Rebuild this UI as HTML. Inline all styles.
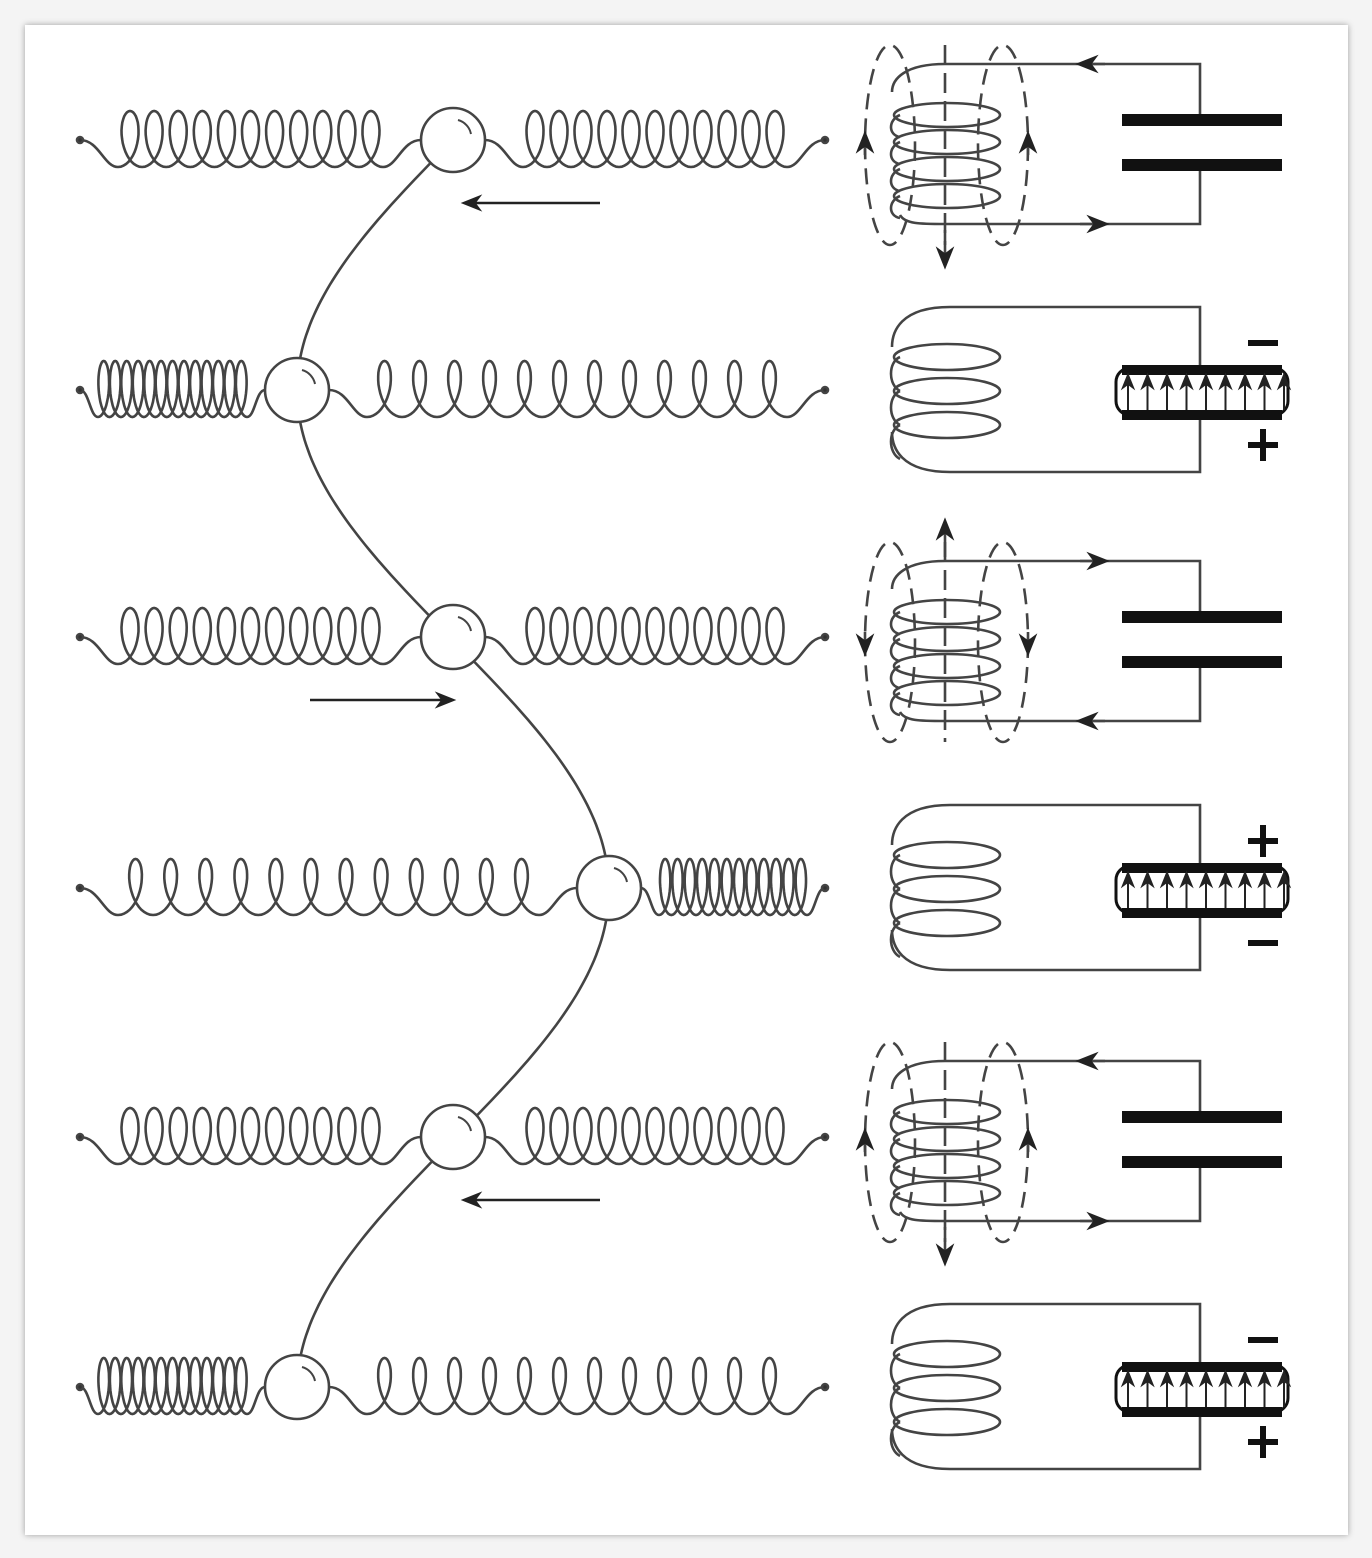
<!DOCTYPE html>
<html><head><meta charset="utf-8">
<style>
html,body{margin:0;padding:0;background:#f4f4f4;}
#frame{position:absolute;left:25px;top:25px;width:1323px;height:1510px;background:#fff;box-shadow:0 0 6px rgba(0,0,0,0.35);}
svg{position:absolute;left:0;top:0;}
</style></head>
<body>
<div id="frame"></div>
<svg id="s" width="1372" height="1558" viewBox="0 0 1372 1558">
<defs>
<marker id="ah" viewBox="0 0 10 10" refX="8" refY="5" markerWidth="9" markerHeight="9" orient="auto"><path d="M0,1 L10,5 L0,9 L3,5 Z" fill="#222"/></marker>
</defs>
<g id="g" fill="none" stroke="#444" stroke-width="2.6"></g>
</svg>
<script>
const rowY=[140,390,637,888,1137,1387];
const massX=[453,297,453,609,453,297];
const leftLoops=[11,13,11,12,11,13];
const rightLoops=[11,12,11,12,11,12];
const circuitType=['field','charged','field','charged','field','charged'];
const fieldDir=[1,0,-1,0,1,0];
const topSign=['','−','','+','','−'];
const arrowRows=[0,2,4];
const arrowDir=[-1,1,-1];
const NS='http://www.w3.org/2000/svg';
const g=document.getElementById('g');
function el(tag,attrs,name){const e=document.createElementNS(NS,tag);for(const k in attrs)e.setAttribute(k,attrs[k]);


g.appendChild(e);return e;}
function spring(xa,xb,cy,n,tight){
  const yb=cy+27,H=28,lead=tight?18:38;
  const xs=xa+lead,xe=xb-lead,p=(xe-xs)/n,Rx=tight?8:14;
  let d=`M${xa},${cy} C${xa+lead*0.5},${cy} ${xs-Rx},${yb} ${xs},${yb}`;
  for(let i=1;i<=n*40;i++){const t=i/40*2*Math.PI;
    d+=` L${(xs+p*t/(2*Math.PI)+Rx*Math.sin(t)).toFixed(1)},${(yb-H*(1-Math.cos(t))).toFixed(1)}`;}
  d+=` C${xe+Rx},${yb} ${xb-lead*0.5},${cy} ${xb},${cy}`;
  return d;
}
{let d='';for(let y=rowY[0];y<=rowY[5];y+=5){const x=453-156*Math.sin(Math.PI*(y-140)/500);d+=(d?' L':'M')+x.toFixed(1)+','+y;}
 el('path',{d:d},'wave-curve');}
rowY.forEach((cy,i)=>{
  const mx=massX[i],r=32;
  const tl=mx<350,tr=mx>550;
  el('path',{d:spring(80,mx-r,cy,leftLoops[i],tl)},'left-spring-'+(i+1));
  el('path',{d:spring(mx+r,825,cy,rightLoops[i],tr)},'right-spring-'+(i+1));
  el('circle',{cx:80,cy:cy,r:3,fill:'#333'},'spring-anchor-left-'+(i+1));
  el('circle',{cx:825,cy:cy,r:3,fill:'#333'},'spring-anchor-right-'+(i+1));
  el('circle',{cx:mx,cy:cy,r:r,fill:'#fff'},'mass-'+(i+1));
  el('path',{d:`M${mx+5},${cy-20} A18,18 0 0 1 ${mx+18},${cy-6}`,'stroke-width':2},'mass-highlight-'+(i+1));
  if(circuitType[i]==='field'){
    const t=cy-76,b=cy+84,dir=fieldDir[i];
    el('path',{d:`M945,${t} L1200,${t} L1200,${cy-20} M1200,${cy+25} L1200,${b} L945,${b}`},'circuit-wire-'+(i+1));
    el('line',{x1:1122,y1:cy-20,x2:1282,y2:cy-20,stroke:'#111','stroke-width':12},'capacitor-plate-top-'+(i+1));
    el('line',{x1:1122,y1:cy+25,x2:1282,y2:cy+25,stroke:'#111','stroke-width':12},'capacitor-plate-bottom-'+(i+1));
    const ax=dir>0?[1105,1080]:[1080,1105];
    el('line',{x1:ax[0],y1:t,x2:ax[1],y2:t,'marker-end':'url(#ah)'},'current-arrow-top-'+(i+1));
    el('line',{x1:ax[1],y1:b,x2:ax[0],y2:b,'marker-end':'url(#ah)'},'current-arrow-bottom-'+(i+1));
    let cd=`M945,${t} C905,${t} 892,${t+15} 892,${t+28}`;
    for(let k=0;k<4;k++){const yc=cy-25+k*27;
      el('ellipse',{cx:947,cy:yc,rx:53,ry:12},'coil-turn-'+(i+1)+'-'+k);
      cd+=` M${900},${yc} C888,${yc+5} 888,${yc+20} 900,${yc+22}`;}
    cd+=` M900,${cy+75} C905,${b} 920,${b} 945,${b}`;
    el('path',{d:cd},'coil-'+(i+1));
    el('ellipse',{cx:890,cy:cy+5,rx:25,ry:100,'stroke-dasharray':'16,9'},'field-line-left-'+(i+1));
    el('ellipse',{cx:1003,cy:cy+5,rx:25,ry:100,'stroke-dasharray':'16,9'},'field-line-right-'+(i+1));
    el('line',{x1:945,y1:cy-95,x2:945,y2:cy+105,'stroke-dasharray':'20,8'},'field-axis-'+(i+1));
    if(dir>0){el('line',{x1:945,y1:cy+90,x2:945,y2:cy+125,'marker-end':'url(#ah)'},'field-arrow-'+(i+1));}
    else {el('line',{x1:945,y1:cy-80,x2:945,y2:cy-115,'marker-end':'url(#ah)'},'field-arrow-'+(i+1));}
    el('line',{x1:865,y1:cy+5+dir*10,x2:865,y2:cy+5-dir*10,'marker-end':'url(#ah)'},'field-dir-left-'+(i+1));
    el('line',{x1:1028,y1:cy+5+dir*10,x2:1028,y2:cy+5-dir*10,'marker-end':'url(#ah)'},'field-dir-right-'+(i+1));
  } else {
    const t=cy-83,b=cy+82;
    el('path',{d:`M1200,${cy-18} L1200,${t} L950,${t} C900,${t} 892,${t+25} 892,${t+40} M1200,${cy+28} L1200,${b} L950,${b} C900,${b} 892,${b-25} 892,${b-40}`},'circuit-wire-'+(i+1));
    for(let k=0;k<3;k++){const yc=cy-33+k*34;
      el('ellipse',{cx:947,cy:yc,rx:53,ry:13},'coil-turn-'+(i+1)+'-'+k);
      el('path',{d:`M900,${yc} C888,${yc+5} 888,${yc+28} 900,${yc+34}`},'coil-back-'+(i+1)+'-'+k);}
    el('rect',{x:1116,y:cy-22,width:172,height:47,rx:14,stroke:'#111','stroke-width':3,fill:'#fff'},'charged-capacitor-'+(i+1));
    el('line',{x1:1122,y1:cy-20,x2:1282,y2:cy-20,stroke:'#111','stroke-width':10},'capacitor-plate-top-'+(i+1));
    el('line',{x1:1122,y1:cy+25,x2:1282,y2:cy+25,stroke:'#111','stroke-width':10},'capacitor-plate-bottom-'+(i+1));
    for(let k=0;k<9;k++){const x=1128+k*19.5;
      el('line',{x1:x,y1:cy+20,x2:x,y2:cy-14,'stroke-width':2,stroke:'#222','marker-end':'url(#ah)'},'e-field-arrow-'+(i+1)+'-'+k);}
    const tp=topSign[i],bp=tp==='+'?'−':'+';
    const mk=(s,y,nm)=>{ if(s==='+'){el('line',{x1:1248,y1:y,x2:1278,y2:y,stroke:'#111','stroke-width':6},nm);el('line',{x1:1263,y1:y-16,x2:1263,y2:y+16,stroke:'#111','stroke-width':6},nm+'-v');}
      else el('line',{x1:1248,y1:y,x2:1278,y2:y,stroke:'#111','stroke-width':6},nm);};
    mk(tp,cy-47,'sign-top-'+(i+1));mk(bp,cy+55,'sign-bottom-'+(i+1));
  }
});
arrowRows.forEach((ri,k)=>{const y=rowY[ri]+63;const d=arrowDir[k];
  const x1=d<0?600:310,x2=d<0?465:452;
  el('line',{x1:x1,y1:y,x2:x2,y2:y,'stroke-width':2.4,stroke:'#222','marker-end':'url(#ah)'},'motion-arrow-'+(ri+1));});
</script>
</body></html>
